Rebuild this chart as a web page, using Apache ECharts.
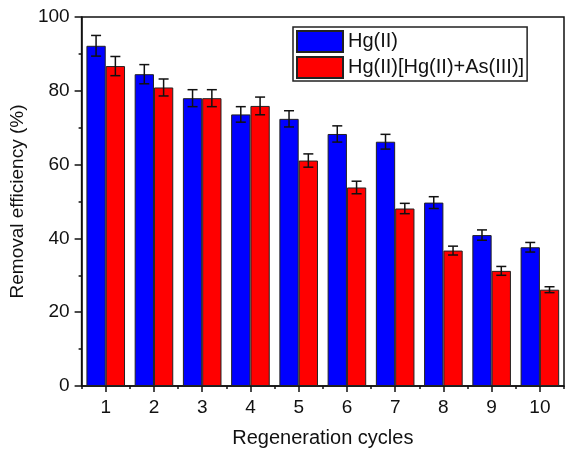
<!DOCTYPE html>
<html>
<head>
<meta charset="utf-8">
<script src="https://cdn.jsdelivr.net/npm/echarts@6/dist/echarts.min.js"></script>
<style>html,body{margin:0;padding:0;background:#fff;}#c{width:567px;height:453px;}</style>
</head>
<body>
<div id="c"></div>
<script>
var categories = ['1','2','3','4','5','6','7','8','9','10'];
var hgValues = [92.2, 84.5, 78.0, 73.6, 72.4, 68.3, 66.2, 49.7, 40.9, 37.6];
var hgErrors = [2.8, 2.6, 2.3, 2.1, 2.2, 2.2, 2.0, 1.6, 1.4, 1.3];
var mixValues = [86.7, 80.9, 78.0, 75.9, 61.1, 53.8, 48.1, 36.7, 31.2, 26.1];
var mixErrors = [2.6, 2.3, 2.3, 2.4, 1.8, 1.7, 1.4, 1.2, 1.2, 0.8];
var yTicks = [0, 20, 40, 60, 80, 100];

var FONT = 'Liberation Sans, Arial, sans-serif';

function errData(vals, errs) {
  return vals.map(function (v, i) { return [i, v - errs[i], v + errs[i]]; });
}
function errRender(side) {
  return function (params, api) {
    var i = api.value(0);
    var lo = api.coord([i, api.value(1)]);
    var hi = api.coord([i, api.value(2)]);
    var cw = api.size([1, 0])[0];
    var x = lo[0] + side * cw * 0.2;
    var cap = 5;
    var st = { stroke: '#111', lineWidth: 1.5 };
    return {
      type: 'group',
      children: [
        { type: 'line', shape: { x1: x, y1: lo[1], x2: x, y2: hi[1] }, style: st },
        { type: 'line', shape: { x1: x - cap, y1: hi[1], x2: x + cap, y2: hi[1] }, style: st },
        { type: 'line', shape: { x1: x - cap, y1: lo[1], x2: x + cap, y2: lo[1] }, style: st }
      ]
    };
  };
}

var chart = echarts.init(document.getElementById('c'), null, { renderer: 'canvas' });
chart.setOption({
  animation: false,
  backgroundColor: '#fff',
  textStyle: { fontFamily: FONT, color: '#111' },
  grid: { left: 80, right: 3, top: 17, bottom: 61, show: true, borderColor: '#111', borderWidth: 1.5, backgroundColor: 'transparent' },
  legend: {
    data: ['Hg(II)', 'Hg(II)[Hg(II)+As(III)]'],
    orient: 'vertical',
    left: 293, top: 27,
    icon: 'rect',
    itemWidth: 46, itemHeight: 21, itemGap: 3,
    padding: [3, 3, 2, 3],
    borderColor: '#222', borderWidth: 1.5,
    textStyle: { fontFamily: FONT, fontSize: 20, color: '#111' }
  },
  xAxis: [{
    type: 'category',
    data: categories,
    position: 'bottom',
    axisLine: { lineStyle: { color: '#111', width: 1.5 } },
    axisTick: { show: true, alignWithLabel: true, inside: false, length: 6, lineStyle: { color: '#111', width: 1.5 } },
    axisLabel: { fontFamily: FONT, fontSize: 19, color: '#111', margin: 12 },
    name: 'Regeneration cycles',
    nameLocation: 'middle',
    nameGap: 42,
    nameTextStyle: { fontFamily: FONT, fontSize: 20, color: '#111' }
  }, {
    type: 'category',
    data: categories,
    position: 'bottom',
    axisLine: { show: false },
    axisTick: { show: true, alignWithLabel: false, interval: 0, length: 3, lineStyle: { color: '#111', width: 1.5 } },
    axisLabel: { show: false }
  }],
  yAxis: {
    type: 'value',
    min: yTicks[0], max: yTicks[yTicks.length - 1], interval: 20,
    axisLine: { show: true, lineStyle: { color: '#111', width: 1.5 } },
    axisTick: { show: true, inside: false, length: 7, lineStyle: { color: '#111', width: 1.5 } },
    minorTick: { show: true, splitNumber: 2, length: 3, lineStyle: { color: '#111', width: 1.5 } },
    splitLine: { show: false },
    axisLabel: { fontFamily: FONT, fontSize: 19, color: '#111', margin: 12 },
    name: 'Removal efficiency (%)',
    nameLocation: 'middle',
    nameGap: 39,
    nameTextStyle: { fontFamily: FONT, fontSize: 19, color: '#111' }
  },
  series: [{
    name: 'Hg(II)',
    type: 'bar',
    data: hgValues,
    barGap: '0%',
    barCategoryGap: '20%',
    itemStyle: { color: '#0000ff', borderColor: '#222', borderWidth: 1 }
  }, {
    name: 'Hg(II)[Hg(II)+As(III)]',
    type: 'bar',
    data: mixValues,
    barGap: '0%',
    barCategoryGap: '20%',
    itemStyle: { color: '#ff0000', borderColor: '#222', borderWidth: 1 }
  }, {
    name: 'errHg',
    type: 'custom',
    renderItem: errRender(-1),
    data: errData(hgValues, hgErrors),
    encode: { x: 0, y: [1, 2] },
    z: 10
  }, {
    name: 'errMix',
    type: 'custom',
    renderItem: errRender(1),
    data: errData(mixValues, mixErrors),
    encode: { x: 0, y: [1, 2] },
    z: 10
  }]
});
</script>
</body>
</html>
